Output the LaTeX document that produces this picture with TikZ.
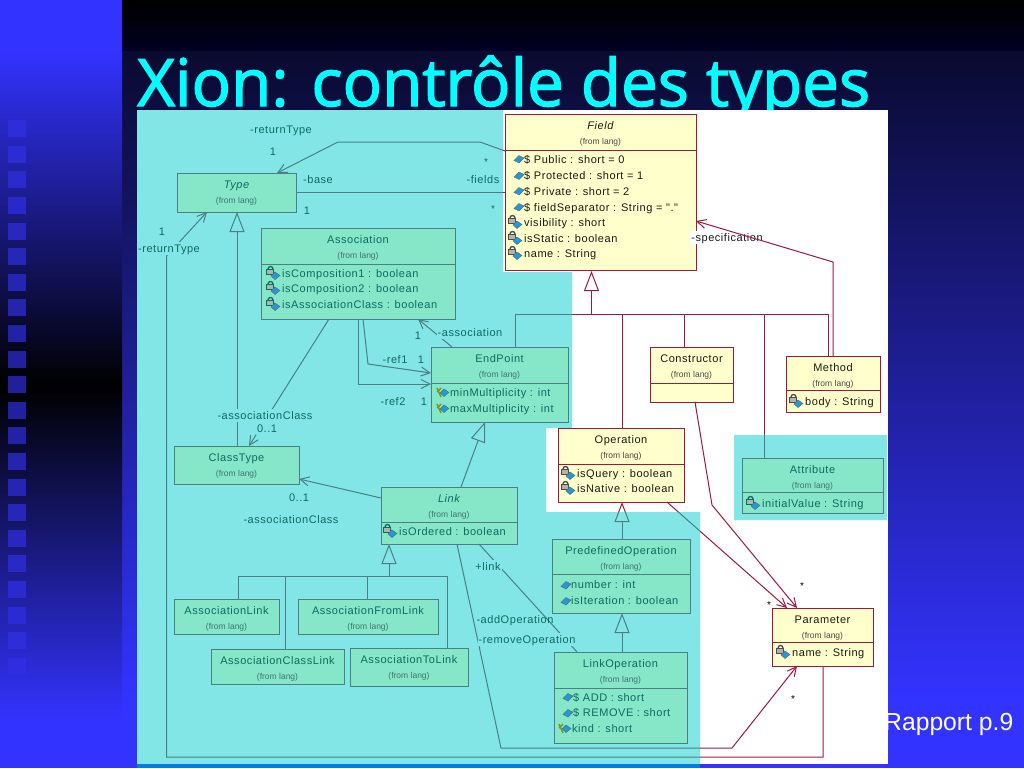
\documentclass[tikz,border=0pt]{standalone}
\usepackage{fontspec}
\usepackage{xcolor}
\usetikzlibrary{arrows.meta}
\newfontfamily\umlfont[LetterSpace=5]{Liberation Sans}
\newfontfamily\titlefont[FakeBold=2]{Open Sans}
\newfontfamily\notefont{Liberation Sans}
\definecolor{bluebg}{HTML}{3333FF}
\definecolor{cyanbg}{HTML}{82E6E6}
\definecolor{titlecyan}{HTML}{00FFFF}
\definecolor{iconblue}{HTML}{1E9BDC}
\definecolor{greenbox}{HTML}{85E6C8}
\definecolor{yellowbox}{HTML}{FFFFCC}
\definecolor{greenink}{HTML}{0F6A62}
\definecolor{yellowink}{HTML}{1A1A1A}
\definecolor{slateline}{HTML}{4A7F84}
\definecolor{redline}{HTML}{A01840}
\definecolor{squaredark}{HTML}{20209A}
\definecolor{squarelight}{HTML}{2E2EE0}
\tikzset{
  uml box/.style={
    rectangle,
    anchor=north west,
    inner sep=0pt,
    outer sep=0pt,
    line width=1pt,
  },
  uml green/.style={uml box, draw=slateline, fill=greenbox},
  uml yellow/.style={uml box, draw=redline, fill=yellowbox},
  uml name/.style={font=\umlfont\fontsize{11}{12}\selectfont, inner sep=0pt, text height=10.5pt, text depth=2.5pt},
  uml from/.style={font=\notefont\fontsize{8.5}{10}\selectfont, inner sep=0pt, text height=6.5pt, text depth=1.5pt},
  row green/.style={anchor=west, text=greenink, font=\umlfont\fontsize{11}{12}\selectfont, inner sep=0pt, text height=10.5pt, text depth=2.5pt},
  row yellow/.style={row green, text=yellowink},
  lbl/.style={text=greenink, font=\umlfont\fontsize{11}{12}\selectfont, inner xsep=1pt, inner ysep=0pt, text height=10.5pt, text depth=2.5pt},
  lbl mask/.style={lbl, fill=cyanbg},
  star/.style={font=\notefont\fontsize{10}{10}\selectfont, inner sep=0pt},
  wire/.style={draw=wireink, line width=1pt},
  wire arrow/.style={wire, -{Straight Barb[length=9pt,width=9pt]}},
  wire gen/.style={wire, -{Triangle[open,length=20pt,width=15pt]}},
  pubicon/.pic={
    \fill[draw=black!60, line width=.4pt, fill=iconblue] (-5,1.5) -- (0,-3.5) -- (5,-1) -- (0,4) -- cycle;
  },
  lockicon/.pic={
    \draw[line width=1.3pt] (-6,-4) arc (180:360:2.5);
    \fill[draw, line width=1pt, fill=white!70!black] (-8,-4) rectangle (-1,1.5);
    \fill[draw=black!60, line width=.4pt, fill=iconblue] (-3,3) -- (1,-1) -- (6,2.5) -- (1,6.5) -- cycle;
  },
  keyicon/.pic={
    \draw[draw=olive!70!green, line width=1.4pt] (-6,-4) -- (-2,5) (-2,-4) -- (-6,0);
    \fill[draw=black!60, line width=.4pt, fill=iconblue] (-3,1) -- (1,-3) -- (6,.5) -- (1,4.5) -- cycle;
  },
}
% outline of the cyan overlay
\newcommand\cyanzone{
  (137,110) -- (503,110) -- (503,272) -- (572,272) -- (572,428) -- (546,428) -- (546,512)
  -- (700,512) -- (700,764) -- (137,764) -- cycle
  (734,435) -- (887,435) -- (887,520) -- (734,520) -- cycle
}
\newcommand\umlhead[3]{
  \node[uml name, text=#3] (#1name) at ([yshift=-11pt]#1.north) {#2};
  \node[uml from, text=#3!55!gray] (#1from) at ([yshift=-27.5pt]#1.north) {(from lang)};
}
\newcommand\umlsep[3]{
  \draw[draw=#3, line width=1pt] ([yshift=-#2pt]#1.north west) -- ([yshift=-#2pt]#1.north east);
}
\newcommand\umlwires{
  % field tree
  \draw[wire gen] (591.5,314) -- (591.5,271);
  \draw[wire] (endpoint.north -| 515,0) -- (515,314) -- (828,314) -- (method.north -| 828,0);
  \draw[wire] (622,314) -- (operation.north -| 622,0);
  \draw[wire] (684,314) -- (constructor.north -| 684,0);
  \draw[wire] (764,314) -- (attribute.north -| 764,0);
  \draw[wire arrow] (method.north -| 833,0) -- (833,262) -- (field.east |- 0,221);
  % around type
  \draw[wire arrow] (field.west |- 0,151) -- (480,142) -- (338,142) -- (277,0 |- type.north);
  \draw[wire] (type.east) -- (field.west |- type.east);
  \draw[wire arrow] (parameter.south -| 823,0) -- (823,757) -- (166.5,757) -- (166.5,256) -- (207,0 |- type.south);
  \draw[wire gen] (classtype.north -| 237,0) -- (237,0 |- type.south);
  % around association
  \draw[wire arrow] (452,0 |- endpoint.north) -- (418,0 |- assoc.south);
  \draw[wire arrow] (363,0 |- assoc.south) -- (368,364) -- (endpoint.west |- 0,373);
  \draw[wire arrow] (358,0 |- assoc.south) -- (358,384) -- (endpoint.west |- 0,384);
  \draw[wire arrow] (329,0 |- assoc.south) -- (249,0 |- classtype.north);
  % around link
  \draw[wire gen] (461,0 |- link.north) -- (485,0 |- endpoint.south);
  \draw[wire arrow] (link.west |- 0,498) -- (classtype.east |- 0,479);
  \draw[wire gen] (389,576) -- (389,0 |- link.south);
  \draw[wire] (assoclink.north -| 238,0) -- (238,576) -- (447,576) -- (tolink.north -| 447,0);
  \draw[wire] (285,576) -- (classlink.north -| 285,0);
  \draw[wire] (367,576) -- (fromlink.north -| 367,0);
  \draw[wire] (479,0 |- link.south) -- (577,0 |- linkop.north);
  \draw[wire arrow] (457,0 |- link.south) -- (501,748) -- (732,748) -- (797,0 |- parameter.south);
  % operations
  \draw[wire gen] (predefined.north -| 622,0) -- (622,0 |- operation.south);
  \draw[wire gen] (linkop.north -| 622,0) -- (622,0 |- predefined.south);
  \draw[wire arrow] (667,0 |- operation.south) -- (787,0 |- parameter.north);
  \draw[wire arrow] (695,0 |- constructor.south) -- (712,505) -- (797,0 |- parameter.north);
}
\begin{document}
\begin{tikzpicture}[x=1pt,y=-1pt]
  \useasboundingbox (0,0) rectangle (1024,768);

  % slide background
  \fill[bluebg] (0,0) rectangle (1024,768);
  \shade[top color=black, bottom color={rgb,255:red,0;green,0;blue,36}] (122,0) rectangle (1024,52);
  \shade[top color={rgb,255:red,10;green,10;blue,48}, bottom color=bluebg] (122,52) rectangle (1024,700);
  \shade[top color=bluebg, bottom color=black] (0,50) rectangle (122,385);
  \shade[top color=black, bottom color=bluebg] (0,385) rectangle (122,720);
  \foreach \k in {-8,...,13}{
    \pgfmathtruncatemacro\mixval{min(100,abs(25.6*\k-52)/2.8)}
    \fill[squarelight!\mixval!squaredark] (8,325+25.6*\k) rectangle (26,342+25.6*\k);
  }

  \node[anchor=base west, inner sep=0pt, text=titlecyan, font=\titlefont\fontsize{65.5}{70}\selectfont] (title) at (137,106) {Xion: contrôle des types};
  \node[anchor=west, inner sep=0pt, text=white, font=\notefont\fontsize{24.7}{26}\selectfont] (note) at (884,724) {Rapport p.9};

  % picture sheet
  \fill[white] (137,110) rectangle (888,764);
  \fill[cyanbg] \cyanzone;
  \fill[blue!45!titlecyan!90!black] (137,764) rectangle (700,768);

  % classes
  \node[uml yellow, minimum width=191pt, minimum height=156pt] (field) at (505,114) {};
  \node[uml green, minimum width=119pt, minimum height=39pt] (type) at (177,173) {};
  \node[uml green, minimum width=194pt, minimum height=91pt] (assoc) at (261,228) {};
  \node[uml green, minimum width=137pt, minimum height=75pt] (endpoint) at (431,347) {};
  \node[uml green, minimum width=125pt, minimum height=38pt] (classtype) at (174,446) {};
  \node[uml green, minimum width=136pt, minimum height=57pt] (link) at (381,487) {};
  \node[uml green, minimum width=105pt, minimum height=35pt] (assoclink) at (174,599) {};
  \node[uml green, minimum width=140pt, minimum height=35pt] (fromlink) at (298,599) {};
  \node[uml green, minimum width=133pt, minimum height=35pt] (classlink) at (211,649) {};
  \node[uml green, minimum width=118pt, minimum height=38pt] (tolink) at (350,648) {};
  \node[uml yellow, minimum width=126pt, minimum height=74pt] (operation) at (558,428) {};
  \node[uml green, minimum width=138pt, minimum height=74pt] (predefined) at (552,539) {};
  \node[uml green, minimum width=133pt, minimum height=91pt] (linkop) at (554,652) {};
  \node[uml yellow, minimum width=101pt, minimum height=58pt] (parameter) at (772,608) {};
  \node[uml green, minimum width=141pt, minimum height=55pt] (attribute) at (742,458) {};
  \node[uml yellow, minimum width=83pt, minimum height=55pt] (constructor) at (650,347) {};
  \node[uml yellow, minimum width=94pt, minimum height=56pt] (method) at (786,356) {};

  \umlhead{field}{\itshape Field}{yellowink}
  \umlhead{type}{\itshape Type}{greenink}
  \umlhead{assoc}{Association}{greenink}
  \umlhead{endpoint}{EndPoint}{greenink}
  \umlhead{classtype}{ClassType}{greenink}
  \umlhead{link}{\itshape Link}{greenink}
  \umlhead{assoclink}{AssociationLink}{greenink}
  \umlhead{fromlink}{AssociationFromLink}{greenink}
  \umlhead{classlink}{AssociationClassLink}{greenink}
  \umlhead{tolink}{AssociationToLink}{greenink}
  \umlhead{operation}{Operation}{yellowink}
  \umlhead{predefined}{PredefinedOperation}{greenink}
  \umlhead{linkop}{LinkOperation}{greenink}
  \umlhead{parameter}{Parameter}{yellowink}
  \umlhead{attribute}{Attribute}{greenink}
  \umlhead{constructor}{Constructor}{yellowink}
  \umlhead{method}{Method}{yellowink}

  \umlsep{field}{36}{redline}
  \umlsep{assoc}{36}{slateline}
  \umlsep{endpoint}{36}{slateline}
  \umlsep{link}{35}{slateline}
  \umlsep{operation}{36}{redline}
  \umlsep{predefined}{35}{slateline}
  \umlsep{linkop}{36}{slateline}
  \umlsep{parameter}{34}{redline}
  \umlsep{attribute}{34}{slateline}
  \umlsep{constructor}{36}{redline}
  \umlsep{method}{34}{redline}

  % attributes
  \pic[draw=black!70] at (519,159) {pubicon};
  \pic[draw=black!70] at (519,175.5) {pubicon};
  \pic[draw=black!70] at (519,191) {pubicon};
  \pic[draw=black!70] at (519,207) {pubicon};
  \node[row yellow] (field1) at (524,159) {\$ Public : short = 0};
  \node[row yellow] (field2) at (524,175.5) {\$ Protected : short = 1};
  \node[row yellow] (field3) at (524,191) {\$ Private : short = 2};
  \node[row yellow] (field4) at (524,207) {\$ fieldSeparator : String = "."};
  \foreach \y/\t in {222/visibility : short,238/isStatic : boolean,253/name : String}{
    \pic[draw=black!70] at (516,\y) {lockicon};
    \node[row yellow] at (524,\y) {\t};
  }
  \foreach \y/\t in {273/isComposition1 : boolean,288/isComposition2 : boolean,304/isAssociationClass : boolean}{
    \pic[draw=greenink] at (274,\y) {lockicon};
    \node[row green] at (282,\y) {\t};
  }
  \foreach \y/\t in {392/minMultiplicity : int,408/maxMultiplicity : int}{
    \pic[draw=greenink] at (443,\y) {keyicon};
    \node[row green] at (450,\y) {\t};
  }
  \pic[draw=greenink] at (391,531) {lockicon};
  \node[row green] (link1) at (399,531) {isOrdered : boolean};
  \foreach \y/\t in {473/isQuery : boolean,488/isNative : boolean}{
    \pic[draw=black!70] at (569,\y) {lockicon};
    \node[row yellow] at (577,\y) {\t};
  }
  \pic[draw=greenink] at (566,585) {pubicon};
  \pic[draw=greenink] at (566,601) {pubicon};
  \node[row green] (pre1) at (571,584) {number : int};
  \node[row green] (pre2) at (571,600) {isIteration : boolean};
  \pic[draw=greenink] at (568,697) {pubicon};
  \pic[draw=greenink] at (568,713) {pubicon};
  \pic[draw=greenink] at (565,728) {keyicon};
  \node[row green] (op1) at (573,697) {\$ ADD : short};
  \node[row green] (op2) at (573,712) {\$ REMOVE : short};
  \node[row green] (op3) at (572,728) {kind : short};
  \pic[draw=black!70] at (784,652) {lockicon};
  \node[row yellow] (par1) at (792,652) {name : String};
  \pic[draw=greenink] at (754,503) {lockicon};
  \node[row green] (att1) at (762,503) {initialValue : String};
  \pic[draw=black!70] at (797,401) {lockicon};
  \node[row yellow] (met1) at (805,401) {body : String};

  \node[lbl, fill=white, text=yellowink] (lblspec) at (727,237) {-specification};

  % connectors: red on the white sheet, slate on the cyan overlay
  \begin{scope}[even odd rule]
    \colorlet{wireink}{redline}
    \clip (0,0) rectangle (1024,768) \cyanzone;
    \umlwires
  \end{scope}
  \begin{scope}
    \colorlet{wireink}{slateline}
    \clip \cyanzone;
    \umlwires
  \end{scope}

  % role names and multiplicities
  \node[lbl] (lblret) at (281,129) {-returnType};
  \node[lbl] (lblone1) at (273,151) {1};
  \node[star, text=greenink] (lblstar1) at (486,162) {*};
  \node[lbl] (lblbase) at (318,179) {-base};
  \node[lbl] (lblfields) at (483,179) {-fields};
  \node[lbl] (lblone2) at (307,210) {1};
  \node[star, text=greenink] (lblstar2) at (493,209) {*};
  \node[lbl] (lblone3) at (162,231) {1};
  \node[lbl mask] (lblret2) at (169,248) {-returnType};
  \node[lbl] (lblone4) at (418,335) {1};
  \node[lbl mask] (lblassoc) at (470,332) {-association};
  \node[lbl] (lblref1) at (395,359) {-ref1};
  \node[lbl] (lblone5) at (421,359) {1};
  \node[lbl] (lblref2) at (393,401) {-ref2};
  \node[lbl] (lblone6) at (424,401) {1};
  \node[lbl mask] (lblclass) at (265,415) {-associationClass};
  \node[lbl mask] (lblzero1) at (267,428) {0..1};
  \node[lbl] (lblzero2) at (299,497) {0..1};
  \node[lbl] (lblclass2) at (291,519) {-associationClass};
  \node[lbl mask] (lbllink) at (488,566) {+link};
  \node[lbl] (lbladd) at (515,619) {-addOperation};
  \node[lbl mask] (lblremove) at (527,639) {-removeOperation};
  \node[star] (lblstar3) at (802,586) {*};
  \node[star] (lblstar4) at (769,605) {*};
  \node[star] (lblstar5) at (793,699) {*};
\end{tikzpicture}
\end{document}
